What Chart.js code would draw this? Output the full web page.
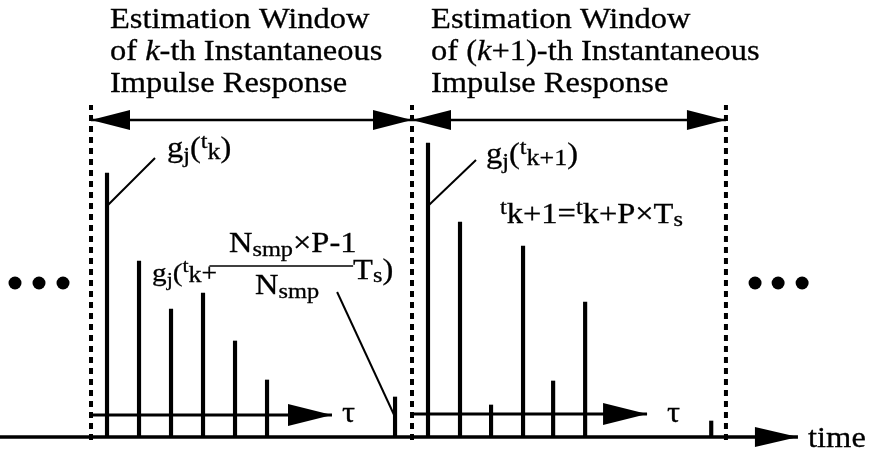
<!DOCTYPE html>
<html>
<head>
<meta charset="utf-8">
<script src="https://cdn.jsdelivr.net/npm/chart.js@4"></script>
<style>
  html, body { margin: 0; padding: 0; background: #fff; }
  canvas { display: block; }
</style>
</head>
<body>
<canvas id="c" width="869" height="459"></canvas>
<script>
// sample times (units of Ts) and impulse response amplitudes
const tauK = [0, 1, 2, 3, 4, 5, 9];
const gK = [2.64, 1.76, 1.28, 1.44, 0.96, 0.57, 0.40];
const tauK1 = [10.03, 11.03, 12, 13, 13.94, 14.94, 18.88];
const gK1 = [2.94, 2.15, 0.32, 1.91, 0.56, 1.35, 0.16];

// estimation window edges (time) and their vertical extent
const windowEdges = [-0.5, 9.53, 19.34];
const windowSpan = [-0.03, 3.32];
const windowArrowY = 3.17;

// tau axes of each window: [start, tip, level]
const tauAxes = [[-0.53, 7.03, 0.22], [9.53, 16.875, 0.23]];
const timeAxis = [-3.344, 21.59, 0];

// ellipsis dots
const dotsLeft = [-2.875, -2.125, -1.375];
const dotsRight = [20.25, 20.97, 21.72];
const dotsY = 1.54;

// view range
const xRange = [-3.344, 23.81];
const yRange = [-0.22, 4.37];

const FONT = '"Liberation Serif", "Times New Roman", serif';
const FS = 29;
const SX = 1.12;

function seg(x0, y0, x1, y1, w, extra) {
    return Object.assign({
        type: 'line',
        data: [{x: x0, y: y0}, {x: x1, y: y1}],
        borderColor: '#000',
        borderWidth: w,
        pointRadius: 0,
        fill: false,
        tension: 0,
        borderCapStyle: 'butt'
    }, extra || {});
}

const sub = (s, dy, f) => ({s: s, f: (f || 1) * 0.75, dy: dy === undefined ? 4 : dy});
const sup = (s, f) => ({s: s, f: (f || 1) * 0.75, dy: -9});

const labels = [
    {x: 0.094, y: 4.09, runs: [{s: 'Estimation Window'}]},
    {x: 0.094, y: 3.77, runs: [{s: 'of '}, {s: 'k', it: true}, {s: '-th Instantaneous'}]},
    {x: 0.094, y: 3.45, runs: [{s: 'Impulse Response'}]},
    {x: 10.125, y: 4.09, runs: [{s: 'Estimation Window'}]},
    {x: 10.125, y: 3.77, runs: [{s: 'of ('}, {s: 'k', it: true}, {s: '+1)-th Instantaneous'}]},
    {x: 10.125, y: 3.45, runs: [{s: 'Impulse Response'}]},
    {x: 1.875, y: 2.80, runs: [{s: 'g'}, sub('j', 5), {s: '('}, sup('t'), {s: 'k', f: 0.8, dy: 2}, {s: ')'}]},
    {x: 11.84, y: 2.74, runs: [{s: 'g'}, sub('j', 5), {s: '('}, sup('t'), {s: 'k+1', f: 0.8, dy: 2}, {s: ')'}]},
    {x: 12.28, y: 2.14, runs: [sup('t'), {s: 'k+1'}, {s: '='}, sup('t'), {s: 'k'}, {s: '+P\u00d7T'}, sub('s', 3)]},
    {x: 1.406, y: 1.56, runs: [{s: 'g', f: 0.9}, sub('j', 5, 0.9), {s: '(', f: 0.9}, sup('t', 0.9), {s: 'k', f: 0.8, dy: 1}, {s: '+', f: 0.85}]},
    {x: 3.81, y: 1.85, runs: [{s: 'N'}, sub('smp'), {s: '\u00d7P-1'}]},
    {x: 4.625, y: 1.43, runs: [{s: 'N'}, sub('smp')]},
    {x: 7.69, y: 1.58, runs: [{s: 'T'}, sub('s', 3), {s: ')'}]},
    {x: 7.344, y: 0.15, runs: [{s: '\u03c4'}]},
    {x: 17.5, y: 0.15, runs: [{s: '\u03c4'}]},
    {x: 21.906, y: -0.10, runs: [{s: 'time'}]}
];

const datasets = [];

datasets.push({
    type: 'bar', label: 'k-th',
    data: tauK.map((t, i) => ({x: t, y: gK[i]})),
    backgroundColor: '#000', barThickness: 3.5, grouped: false
});
datasets.push({
    type: 'bar', label: '(k+1)-th',
    data: tauK1.map((t, i) => ({x: t, y: gK1[i]})),
    backgroundColor: '#000', barThickness: 3.5, grouped: false
});

// time axis and tau axes
datasets.push(seg(timeAxis[0], timeAxis[2], timeAxis[1], timeAxis[2], 3.5, {arrow: {len: 43, half: 10}}));
tauAxes.forEach(a => datasets.push(seg(a[0], a[2], a[1], a[2], 3, {arrow: {len: 44, half: 11}})));

// window borders
windowEdges.forEach(x => datasets.push(seg(x, windowSpan[0], x, windowSpan[1], 4, {borderDash: [6, 5]})));

// window double arrows
for (let i = 0; i < windowEdges.length - 1; i++) {
    datasets.push(seg(windowEdges[i], windowArrowY, windowEdges[i + 1], windowArrowY, 2.5, {arrow: {len: 39, half: 10, both: true}}));
}

// leader lines
datasets.push(seg(0.03, 2.32, 1.5, 2.79, 2));
datasets.push(seg(10.06, 2.32, 11.53, 2.77, 2));
datasets.push(seg(7.19, 1.45, 9.0, 0.20, 2));
// fraction bar
datasets.push(seg(3.2, 1.71, 7.69, 1.71, 1.5));

// dots
datasets.push({
    type: 'line', showLine: false,
    data: dotsLeft.concat(dotsRight).map(x => ({x: x, y: dotsY})),
    pointRadius: 6.5, pointBackgroundColor: '#000', pointBorderWidth: 0, borderColor: '#000'
});

const arrowPlugin = {
    id: 'arrows',
    afterDatasetsDraw(chart) {
        const ctx = chart.ctx;
        chart.data.datasets.forEach((ds, i) => {
            if (!ds.arrow) return;
            const pts = chart.getDatasetMeta(i).data;
            const a = pts[0], b = pts[pts.length - 1];
            const head = (from, to) => {
                const ang = Math.atan2(to.y - from.y, to.x - from.x);
                ctx.save();
                ctx.translate(to.x, to.y);
                ctx.rotate(ang);
                ctx.beginPath();
                ctx.moveTo(0, 0);
                ctx.lineTo(-ds.arrow.len, -ds.arrow.half);
                ctx.lineTo(-ds.arrow.len, ds.arrow.half);
                ctx.closePath();
                ctx.fillStyle = '#000';
                ctx.fill();
                ctx.restore();
            };
            head(a, b);
            if (ds.arrow.both) head(b, a);
        });
    }
};

const textPlugin = {
    id: 'texts',
    afterDraw(chart) {
        const ctx = chart.ctx;
        const xs = chart.scales.x, ys = chart.scales.y;
        ctx.save();
        ctx.fillStyle = '#000';
        ctx.strokeStyle = '#000';
        ctx.lineWidth = 0.3;
        ctx.textBaseline = 'alphabetic';
        labels.forEach(l => {
            ctx.save();
            ctx.translate(xs.getPixelForValue(l.x), ys.getPixelForValue(l.y));
            ctx.scale(SX, 1);
            let cx = 0;
            l.runs.forEach(r => {
                ctx.font = (r.it ? 'italic ' : '') + (FS * (r.f || 1)) + 'px ' + FONT;
                ctx.fillText(r.s, cx, r.dy || 0);
                ctx.strokeText(r.s, cx, r.dy || 0);
                cx += ctx.measureText(r.s).width;
            });
            ctx.restore();
        });
        ctx.restore();
    }
};

new Chart(document.getElementById('c'), {
    type: 'bar',
    data: {datasets: datasets},
    options: {
        responsive: false,
        devicePixelRatio: 1,
        animation: false,
        layout: {padding: 0, autoPadding: false},
        plugins: {legend: {display: false}, tooltip: {enabled: false}},
        scales: {
            x: {type: 'linear', min: xRange[0], max: xRange[1], offset: false, display: false},
            y: {type: 'linear', min: yRange[0], max: yRange[1], display: false}
        }
    },
    plugins: [arrowPlugin, textPlugin]
});
</script>
</body>
</html>
